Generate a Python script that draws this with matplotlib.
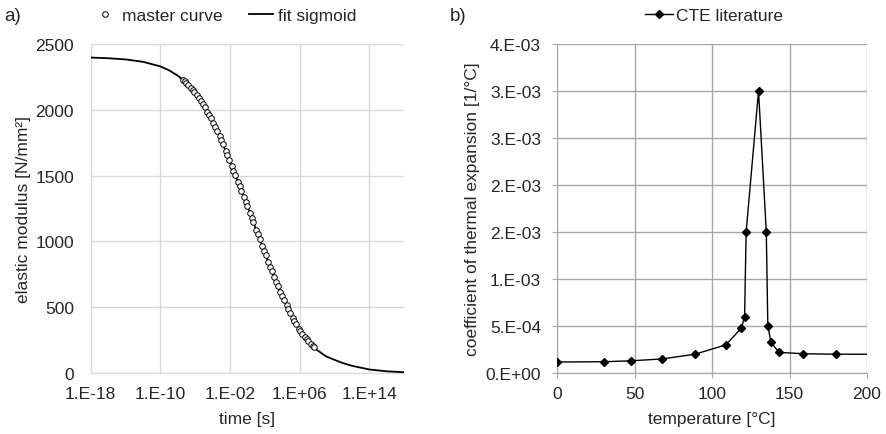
import matplotlib
matplotlib.use("Agg")
import matplotlib.pyplot as plt
import numpy as np
from matplotlib.lines import Line2D

plt.rcParams['font.family'] = ['Liberation Sans', 'DejaVu Sans']

# a) master curve points (log10 of time in s, modulus in N/mm²)
master_log_time = [-7.4, -7.2, -7.0, -6.8, -6.5, -6.3, -6.1, -5.8, -5.6, -5.3, -5.1, -4.9,
                   -4.6, -4.4, -4.2, -3.9, -3.7, -3.5, -3.2, -3.0, -2.8, -2.5, -2.3, -2.1,
                   -1.8, -1.6, -1.4, -1.1, -0.9, -0.7, -0.4, -0.2, 0.0, 0.3, 0.5, 0.7,
                   1.0, 1.2, 1.4, 1.7, 1.9, 2.1, 2.4, 2.6, 2.8, 3.1, 3.3, 3.5,
                   3.8, 4.0, 4.2, 4.5, 4.7, 4.9, 5.2, 5.4, 5.6, 5.9, 6.1, 6.3,
                   6.6, 6.8, 7.0, 7.3, 7.5, 7.7]
master_modulus = [2227, 2216, 2205, 2190, 2168, 2152, 2138, 2111, 2092, 2064, 2045, 2023,
                  1986, 1961, 1937, 1898, 1870, 1841, 1798, 1770, 1737, 1688, 1655, 1622,
                  1571, 1537, 1503, 1452, 1419, 1385, 1336, 1303, 1270, 1216, 1180, 1144,
                  1090, 1054, 1018, 964, 928, 893, 843, 809, 776, 726, 695, 664,
                  616, 585, 557, 515, 487, 459, 421, 397, 373, 337, 317, 300,
                  274, 257, 240, 220, 207, 194]

# a) fitted sigmoid
fit_log_time = [-18, -16, -14, -12, -10, -9, -8, -7, -6, -5, -4, -3, -2, -1, 0,
                1, 2, 3, 4, 5, 6, 7, 8, 9, 10, 11, 12, 14, 16, 18]
fit_modulus = [2397, 2392, 2383, 2365, 2330, 2300, 2260, 2205, 2130, 2035, 1912, 1770,
               1605, 1435, 1270, 1090, 910, 742, 585, 445, 325, 240, 175, 128, 100,
               75, 55, 27, 13, 6]

time_ticks = [1e-18, 1e-10, 1e-2, 1e6, 1e14]
time_labels = ['1.E-18', '1.E-10', '1.E-02', '1.E+06', '1.E+14']
modulus_ticks = [0, 500, 1000, 1500, 2000, 2500]

# b) CTE literature
temperature = [0, 30, 48, 68, 89, 109, 119, 121, 122, 130, 135, 136, 138, 143, 159, 180, 220]
cte = [1.17e-4, 1.2e-4, 1.3e-4, 1.5e-4, 2.0e-4, 3.0e-4, 4.8e-4, 6.0e-4, 1.5e-3, 3.0e-3,
       1.5e-3, 5.0e-4, 3.3e-4, 2.2e-4, 2.05e-4, 2.0e-4, 2.0e-4]
cte_ticks = [0, 5e-4, 1e-3, 1.5e-3, 2e-3, 2.5e-3, 3e-3, 3.5e-3]
cte_labels = ['0.E+00', '5.E-04', '1.E-03', '2.E-03', '2.E-03', '3.E-03', '3.E-03', '4.E-03']
temp_ticks = [0, 50, 100, 150, 200]

txt = '#262626'
fs = 12.5
fig = plt.figure(figsize=(8.87, 4.35), dpi=100)

# ---- a) ----
ax1 = fig.add_axes([0.1023, 0.1402, 0.3532, 0.7563])
ax1.plot(10.0 ** np.array(fit_log_time), fit_modulus, color='black', lw=1.3, zorder=3)
ax1.plot(10.0 ** np.array(master_log_time), master_modulus, ls='none', marker='o',
         ms=4, mfc='white', mec='black', mew=0.7, zorder=4)
ax1.set_xscale('log')
ax1.set_xlim(1e-18, 1e18)
ax1.set_ylim(0, 2500)
ax1.set_xticks(time_ticks)
ax1.set_xticklabels(time_labels)
ax1.xaxis.set_minor_locator(matplotlib.ticker.NullLocator())
ax1.set_yticks(modulus_ticks)
ax1.grid(True, color='#d9d9d9', lw=1)
ax1.set_axisbelow(True)
for s in ['top', 'right']:
    ax1.spines[s].set_visible(False)
for s in ['left', 'bottom']:
    ax1.spines[s].set_color('#d9d9d9')
ax1.tick_params(length=0, labelsize=fs, colors=txt)
ax1.tick_params(axis='y', pad=12)
ax1.tick_params(axis='x', pad=9)
ax1.set_xlabel('time [s]', fontsize=fs, color=txt)
ax1.set_ylabel('elastic modulus [N/mm²]', fontsize=fs, color=txt)
ax1.xaxis.set_label_coords(0.5, -0.115)
ax1.yaxis.set_label_coords(-0.19, 0.5)

h1 = [Line2D([], [], ls='none', marker='o', ms=4, mfc='white', mec='black', mew=0.7),
      Line2D([], [], color='black', lw=1.3)]
fig.legend(h1, ['master curve', 'fit sigmoid'], loc='center', bbox_to_anchor=(0.253, 0.963),
           ncol=2, frameon=False, fontsize=fs, handlelength=1.4, handletextpad=0.3,
           columnspacing=1.5, labelcolor=txt)

# ---- b) ----
ax2 = fig.add_axes([0.628, 0.1402, 0.3495, 0.7563])
ax2.plot(temperature, cte, color='black', lw=1, marker='D', ms=4.5, zorder=3)
ax2.set_xlim(0, 200)
ax2.set_ylim(0, 3.5e-3)
ax2.set_xticks(temp_ticks)
ax2.set_yticks(cte_ticks)
ax2.set_yticklabels(cte_labels)
ax2.grid(True, color='#a6a6a6', lw=1)
ax2.set_axisbelow(True)
for s in ['top', 'right']:
    ax2.spines[s].set_visible(False)
for s in ['left', 'bottom']:
    ax2.spines[s].set_color('#a6a6a6')
ax2.tick_params(length=3.6, color='#a6a6a6', labelsize=fs, labelcolor=txt)
ax2.tick_params(axis='y', pad=8)
ax2.tick_params(axis='x', pad=6)
ax2.set_xlabel('temperature [°C]', fontsize=fs, color=txt)
ax2.set_ylabel('coefficient of thermal expansion [1/°C]', fontsize=fs, color=txt)
ax2.xaxis.set_label_coords(0.5, -0.115)
ax2.yaxis.set_label_coords(-0.248, 0.5)

h2 = [Line2D([], [], color='black', lw=1, marker='D', ms=4.5)]
fig.legend(h2, ['CTE literature'], loc='center', bbox_to_anchor=(0.805, 0.963),
           frameon=False, fontsize=fs, handlelength=1.6, handletextpad=0.2, labelcolor=txt)

fig.text(0.005, 0.963, 'a)', fontsize=13.5, color=txt, va='center')
fig.text(0.507, 0.963, 'b)', fontsize=13.5, color=txt, va='center')

plt.savefig('out.png', dpi=100)
